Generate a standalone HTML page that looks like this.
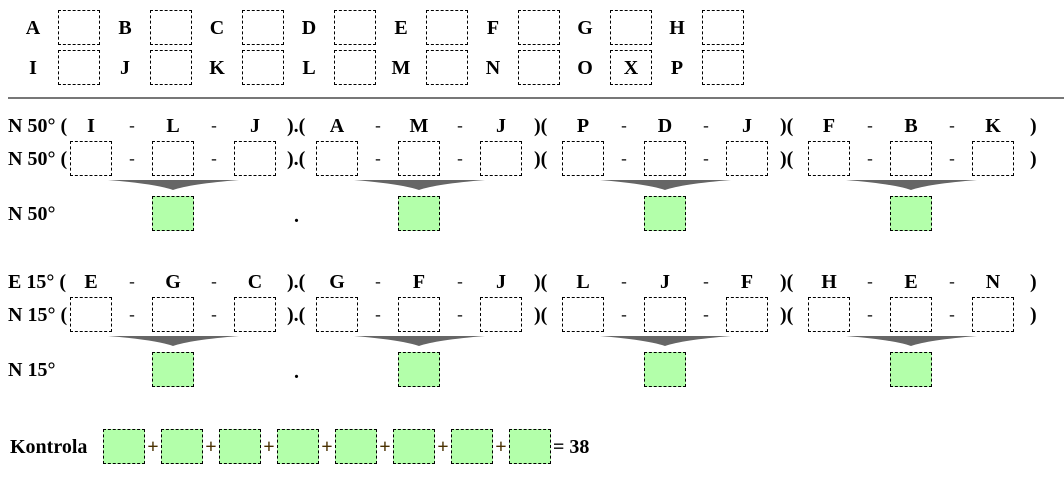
<!DOCTYPE html>
<html><head><meta charset="utf-8"><style>
body{margin:0;width:1064px;height:486px;background:#fff;position:relative;overflow:hidden;font-family:"Liberation Serif",serif;font-weight:bold;font-size:20px;color:#000}
div{position:absolute}
.b{width:40px;height:33px;border:1px dashed #000}
.g{background:#b3ffaa}
.t{width:40px;margin-left:-20px;text-align:center;line-height:20px;height:20px}
.l{line-height:20px;height:20px;white-space:pre}
.d{width:20px;margin-left:-10px;text-align:center;line-height:20px;font-weight:normal;font-size:17px}
.p{width:20px;margin-left:-10px;text-align:center;line-height:20px;font-size:20px;color:#4a3000}
</style></head><body>
<div class="t" style="left:33px;top:18px">A</div><div class="b" style="left:58px;top:10px"></div>
<div class="t" style="left:125px;top:18px">B</div><div class="b" style="left:150px;top:10px"></div>
<div class="t" style="left:217px;top:18px">C</div><div class="b" style="left:242px;top:10px"></div>
<div class="t" style="left:309px;top:18px">D</div><div class="b" style="left:334px;top:10px"></div>
<div class="t" style="left:401px;top:18px">E</div><div class="b" style="left:426px;top:10px"></div>
<div class="t" style="left:493px;top:18px">F</div><div class="b" style="left:518px;top:10px"></div>
<div class="t" style="left:585px;top:18px">G</div><div class="b" style="left:610px;top:10px"></div>
<div class="t" style="left:677px;top:18px">H</div><div class="b" style="left:702px;top:10px"></div>
<div class="t" style="left:33px;top:58px">I</div><div class="b" style="left:58px;top:50px"></div>
<div class="t" style="left:125px;top:58px">J</div><div class="b" style="left:150px;top:50px"></div>
<div class="t" style="left:217px;top:58px">K</div><div class="b" style="left:242px;top:50px"></div>
<div class="t" style="left:309px;top:58px">L</div><div class="b" style="left:334px;top:50px"></div>
<div class="t" style="left:401px;top:58px">M</div><div class="b" style="left:426px;top:50px"></div>
<div class="t" style="left:493px;top:58px">N</div><div class="b" style="left:518px;top:50px"></div>
<div class="t" style="left:585px;top:58px">O</div><div class="b" style="left:610px;top:50px"></div><div class="t" style="left:631px;top:58px">X</div>
<div class="t" style="left:677px;top:58px">P</div><div class="b" style="left:702px;top:50px"></div>
<div style="left:8px;top:97px;width:1056px;height:2px;background:#777"></div>

<div class="l" style="left:8px;top:116px">N 50° (</div>
<div class="t" style="left:91px;top:116px">I</div><div class="d" style="left:132px;top:116px">-</div>
<div class="t" style="left:173px;top:116px">L</div><div class="d" style="left:214px;top:116px">-</div>
<div class="t" style="left:255px;top:116px">J</div>
<div class="l" style="left:287px;top:116px">).(</div>
<div class="t" style="left:337px;top:116px">A</div><div class="d" style="left:378px;top:116px">-</div>
<div class="t" style="left:419px;top:116px">M</div><div class="d" style="left:460px;top:116px">-</div>
<div class="t" style="left:501px;top:116px">J</div>
<div class="l" style="left:534px;top:116px">)(</div>
<div class="t" style="left:583px;top:116px">P</div><div class="d" style="left:624px;top:116px">-</div>
<div class="t" style="left:665px;top:116px">D</div><div class="d" style="left:706px;top:116px">-</div>
<div class="t" style="left:747px;top:116px">J</div>
<div class="l" style="left:780px;top:116px">)(</div>
<div class="t" style="left:829px;top:116px">F</div><div class="d" style="left:870px;top:116px">-</div>
<div class="t" style="left:911px;top:116px">B</div><div class="d" style="left:952px;top:116px">-</div>
<div class="t" style="left:993px;top:116px">K</div>
<div class="l" style="left:1030px;top:116px">)</div>

<div class="l" style="left:8px;top:149px">N 50° (</div>
<div class="b" style="left:70px;top:141px"></div><div class="d" style="left:132px;top:149px">-</div>
<div class="b" style="left:152px;top:141px"></div><div class="d" style="left:214px;top:149px">-</div>
<div class="b" style="left:234px;top:141px"></div>
<div class="l" style="left:287px;top:149px">).(</div>
<div class="b" style="left:316px;top:141px"></div><div class="d" style="left:378px;top:149px">-</div>
<div class="b" style="left:398px;top:141px"></div><div class="d" style="left:460px;top:149px">-</div>
<div class="b" style="left:480px;top:141px"></div>
<div class="l" style="left:534px;top:149px">)(</div>
<div class="b" style="left:562px;top:141px"></div><div class="d" style="left:624px;top:149px">-</div>
<div class="b" style="left:644px;top:141px"></div><div class="d" style="left:706px;top:149px">-</div>
<div class="b" style="left:726px;top:141px"></div>
<div class="l" style="left:780px;top:149px">)(</div>
<div class="b" style="left:808px;top:141px"></div><div class="d" style="left:870px;top:149px">-</div>
<div class="b" style="left:890px;top:141px"></div><div class="d" style="left:952px;top:149px">-</div>
<div class="b" style="left:972px;top:141px"></div>
<div class="l" style="left:1030px;top:149px">)</div>

<div class="l" style="left:8px;top:204px">N 50°</div>
<div class="b g" style="left:152px;top:196px"></div>
<div class="b g" style="left:398px;top:196px"></div>
<div class="b g" style="left:644px;top:196px"></div>
<div class="b g" style="left:890px;top:196px"></div>
<div class="l" style="left:294px;top:206px">.</div>

<div class="l" style="left:8px;top:272px">E 15° (</div>
<div class="t" style="left:91px;top:272px">E</div><div class="d" style="left:132px;top:272px">-</div>
<div class="t" style="left:173px;top:272px">G</div><div class="d" style="left:214px;top:272px">-</div>
<div class="t" style="left:255px;top:272px">C</div>
<div class="l" style="left:287px;top:272px">).(</div>
<div class="t" style="left:337px;top:272px">G</div><div class="d" style="left:378px;top:272px">-</div>
<div class="t" style="left:419px;top:272px">F</div><div class="d" style="left:460px;top:272px">-</div>
<div class="t" style="left:501px;top:272px">J</div>
<div class="l" style="left:534px;top:272px">)(</div>
<div class="t" style="left:583px;top:272px">L</div><div class="d" style="left:624px;top:272px">-</div>
<div class="t" style="left:665px;top:272px">J</div><div class="d" style="left:706px;top:272px">-</div>
<div class="t" style="left:747px;top:272px">F</div>
<div class="l" style="left:780px;top:272px">)(</div>
<div class="t" style="left:829px;top:272px">H</div><div class="d" style="left:870px;top:272px">-</div>
<div class="t" style="left:911px;top:272px">E</div><div class="d" style="left:952px;top:272px">-</div>
<div class="t" style="left:993px;top:272px">N</div>
<div class="l" style="left:1030px;top:272px">)</div>

<div class="l" style="left:8px;top:305px">N 15° (</div>
<div class="b" style="left:70px;top:297px"></div><div class="d" style="left:132px;top:305px">-</div>
<div class="b" style="left:152px;top:297px"></div><div class="d" style="left:214px;top:305px">-</div>
<div class="b" style="left:234px;top:297px"></div>
<div class="l" style="left:287px;top:305px">).(</div>
<div class="b" style="left:316px;top:297px"></div><div class="d" style="left:378px;top:305px">-</div>
<div class="b" style="left:398px;top:297px"></div><div class="d" style="left:460px;top:305px">-</div>
<div class="b" style="left:480px;top:297px"></div>
<div class="l" style="left:534px;top:305px">)(</div>
<div class="b" style="left:562px;top:297px"></div><div class="d" style="left:624px;top:305px">-</div>
<div class="b" style="left:644px;top:297px"></div><div class="d" style="left:706px;top:305px">-</div>
<div class="b" style="left:726px;top:297px"></div>
<div class="l" style="left:780px;top:305px">)(</div>
<div class="b" style="left:808px;top:297px"></div><div class="d" style="left:870px;top:305px">-</div>
<div class="b" style="left:890px;top:297px"></div><div class="d" style="left:952px;top:305px">-</div>
<div class="b" style="left:972px;top:297px"></div>
<div class="l" style="left:1030px;top:305px">)</div>

<div class="l" style="left:8px;top:360px">N 15°</div>
<div class="b g" style="left:152px;top:352px"></div>
<div class="b g" style="left:398px;top:352px"></div>
<div class="b g" style="left:644px;top:352px"></div>
<div class="b g" style="left:890px;top:352px"></div>
<div class="l" style="left:294px;top:362px">.</div>

<svg style="position:absolute;left:0;top:0" width="1064" height="486">
<g fill="#666">
<path d="M108 180 L239 180 Q190 184 173 190 Q156 184 108 180Z"/>
<path d="M354 180 L485 180 Q436 184 419 190 Q402 184 354 180Z"/>
<path d="M600 180 L731 180 Q682 184 665 190 Q648 184 600 180Z"/>
<path d="M846 180 L977 180 Q928 184 911 190 Q894 184 846 180Z"/>
<path d="M108 336 L239 336 Q190 340 173 346 Q156 340 108 336Z"/>
<path d="M354 336 L485 336 Q436 340 419 346 Q402 340 354 336Z"/>
<path d="M600 336 L731 336 Q682 340 665 346 Q648 340 600 336Z"/>
<path d="M846 336 L977 336 Q928 340 911 346 Q894 340 846 336Z"/>
</g></svg>

<div class="l" style="left:10px;top:437px">Kontrola</div>
<div class="b g" style="left:103px;top:429px"></div><div class="p" style="left:153px;top:437px">+</div>
<div class="b g" style="left:161px;top:429px"></div><div class="p" style="left:211px;top:437px">+</div>
<div class="b g" style="left:219px;top:429px"></div><div class="p" style="left:269px;top:437px">+</div>
<div class="b g" style="left:277px;top:429px"></div><div class="p" style="left:327px;top:437px">+</div>
<div class="b g" style="left:335px;top:429px"></div><div class="p" style="left:385px;top:437px">+</div>
<div class="b g" style="left:393px;top:429px"></div><div class="p" style="left:443px;top:437px">+</div>
<div class="b g" style="left:451px;top:429px"></div><div class="p" style="left:501px;top:437px">+</div>
<div class="b g" style="left:509px;top:429px"></div>
<div class="l" style="left:553px;top:437px">= 38</div>
</body></html>
